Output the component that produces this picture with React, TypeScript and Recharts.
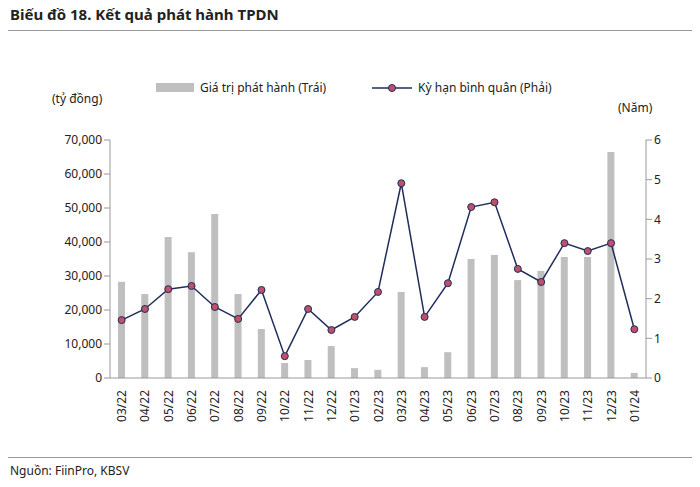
import React from "react";
import { ComposedChart, Bar, Line, XAxis, YAxis } from "recharts";

const categories = ["03/22","04/22","05/22","06/22","07/22","08/22","09/22","10/22","11/22","12/22","01/23","02/23","03/23","04/23","05/23","06/23","07/23","08/23","09/23","10/23","11/23","12/23","01/24"];
const issuance = [28300,24700,41500,37000,48200,24700,14400,4400,5300,9400,2900,2400,25300,3200,7600,35000,36200,28800,31500,35600,35600,66500,1500];
const tenor = [1.46,1.74,2.24,2.32,1.79,1.49,2.22,0.55,1.74,1.21,1.54,2.17,4.91,1.54,2.39,4.31,4.43,2.75,2.42,3.4,3.2,3.4,1.23];
const leftTicks = [0,10000,20000,30000,40000,50000,60000,70000];
const rightTicks = [0,1,2,3,4,5,6];

const data = categories.map((c, i) => ({ c, v: issuance[i], t: tenor[i] }));
const font = "'Noto Sans', sans-serif";

export default function App() {
  return (
    <div style={{ position: "relative", width: 700, height: 487, margin: -8, fontFamily: font, background: "#fff", color: "#222" }}>
      <div style={{ position: "absolute", left: 10, top: 4, fontWeight: 700, fontSize: 15 }}>Biểu đồ 18. Kết quả phát hành TPDN</div>
      <div style={{ position: "absolute", left: 0, top: 30, width: 700, height: 1, background: "#999" }} />
      <div style={{ position: "absolute", left: 156, top: 79, fontSize: 12, display: "flex", alignItems: "center" }}>
        <span style={{ display: "inline-block", width: 38, height: 9, background: "#bfbfbf", marginRight: 6 }} />Giá trị phát hành (Trái)
        <svg width="40" height="12" style={{ marginLeft: 46, marginRight: 6 }}>
          <line x1="0" y1="6" x2="40" y2="6" stroke="#1f2d5a" strokeWidth="1.5" />
          <circle cx="20" cy="6" r="3.5" fill="#c0506a" stroke="#1f2d5a" />
        </svg>Kỳ hạn bình quân (Phải)
      </div>
      <div style={{ position: "absolute", left: 52, top: 90, fontSize: 12 }}>(tỷ đồng)</div>
      <div style={{ position: "absolute", left: 618, top: 99, fontSize: 12 }}>(Năm)</div>
      <div style={{ position: "absolute", top: 0, left: 0 }}>
        <ComposedChart width={700} height={440} data={data} margin={{ top: 140, right: 14, bottom: 17, left: 0 }}>
          <XAxis dataKey="c" interval={0} angle={-90} textAnchor="end" height={45} dx={-4} dy={4}
            tick={{ fontSize: 12, fill: "#222", fontFamily: font }} tickLine={false} axisLine={{ stroke: "#999" }} />
          <YAxis yAxisId="l" width={110} domain={[0, 70000]} ticks={leftTicks} tickFormatter={(v) => v.toLocaleString("en-US")}
            tick={{ fontSize: 12, fill: "#222", fontFamily: font }} tickLine={{ stroke: "#999" }} axisLine={{ stroke: "#999" }} />
          <YAxis yAxisId="r" orientation="right" width={40} domain={[0, 6]} ticks={rightTicks}
            tick={{ fontSize: 12, fill: "#222", fontFamily: font }} tickLine={{ stroke: "#999" }} axisLine={{ stroke: "#999" }} />
          <Bar yAxisId="l" dataKey="v" fill="#bfbfbf" barSize={7} isAnimationActive={false} />
          <Line yAxisId="r" dataKey="t" stroke="#1f2d5a" strokeWidth={1.5} isAnimationActive={false}
            dot={{ r: 3.5, fill: "#c0506a", stroke: "#1f2d5a", strokeWidth: 1 }} />
        </ComposedChart>
      </div>
      <div style={{ position: "absolute", left: 0, top: 457, width: 700, height: 1, background: "#999" }} />
      <div style={{ position: "absolute", left: 10, top: 462, fontSize: 12 }}>Nguồn: FiinPro, KBSV</div>
    </div>
  );
}
